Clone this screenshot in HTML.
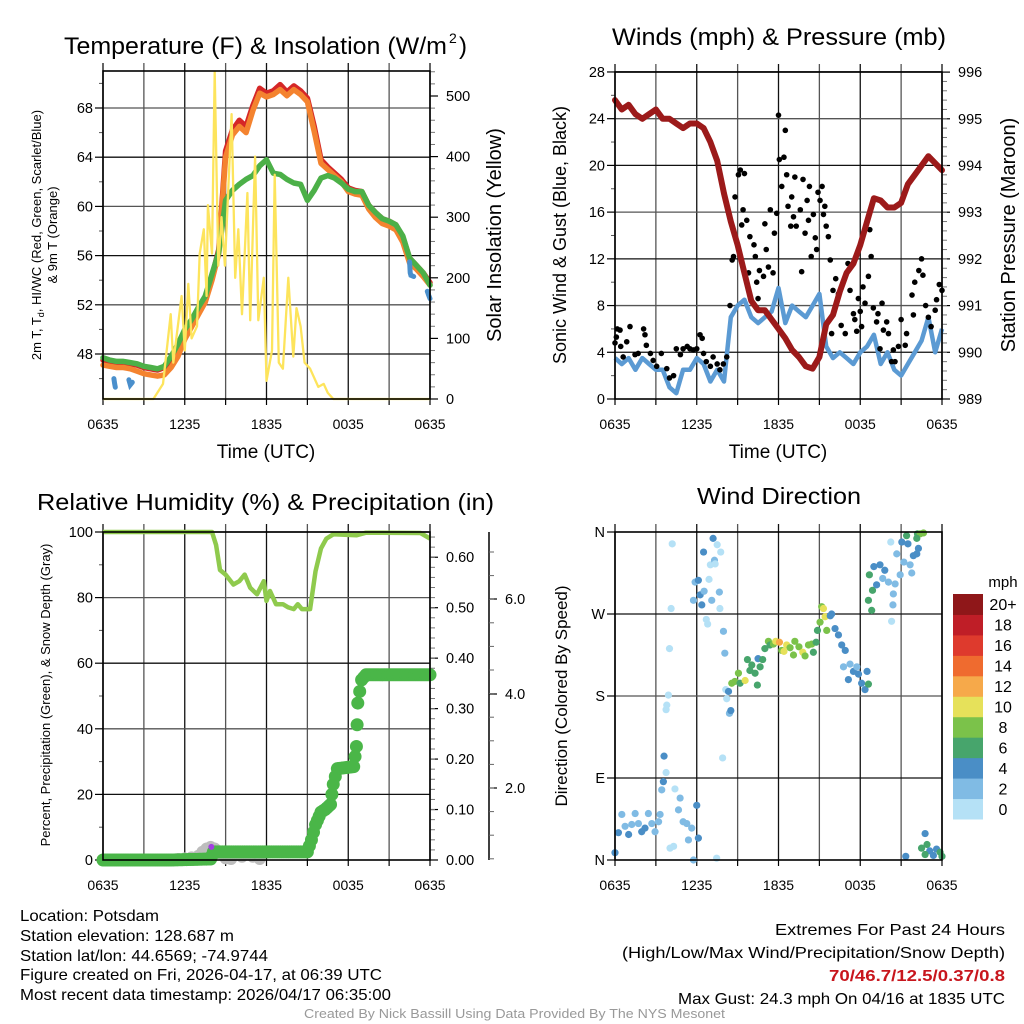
<!DOCTYPE html>
<html><head><meta charset="utf-8"><title>Mesonet Meteogram</title>
<style>
html,body{margin:0;padding:0;background:#fff;}
svg{display:block;font-family:"Liberation Sans",sans-serif;}
</style></head>
<body>
<svg id="chart" xmlns="http://www.w3.org/2000/svg" width="1024" height="1024" viewBox="0 0 1024 1024">
<rect width="1024" height="1024" fill="#fff"/>
<g id="layer"></g>
</svg>
<script>
// ---------- DATA ----------
const halfHours = [0,0.5,1,1.5,2,2.5,3,3.5,4,4.5,5,5.5,6,6.5,7,7.5,8,8.5,9,9.5,10,10.5,11,11.5,12,12.5,13,13.5,14,14.5,15,15.5,16,16.5,17,17.5,18,18.5,19,19.5,20,20.5,21,21.5,22,22.5,23,23.5,24];
const tempF = [47.5,47.4,47.3,47.3,47.2,47.1,46.9,46.8,46.7,46.9,47.6,48.6,49.8,50.6,51.6,52.5,54.3,56.5,64.5,66.2,67,66.5,68.2,69.6,69.2,69.4,69.9,69.3,69.8,69.4,68.8,66.5,63.8,63.2,62.7,62.2,61.5,61.3,61.2,60.1,59.5,59.0,58.8,58.5,57.5,55.8,55.2,54.6,53.8];
const temp9mF = [47.1,47.0,46.9,46.9,46.8,46.6,46.4,46.3,46.2,46.3,46.9,47.8,49.2,50.2,51.2,52.2,54.0,56.2,64.0,65.8,66.5,66.0,67.8,69.2,68.9,69.1,69.5,69.0,69.5,69.1,68.5,66.1,63.5,63.0,62.5,62.0,61.2,61.0,60.9,59.8,59.1,58.6,58.4,58.1,57.1,55.4,54.9,54.3,53.6];
const dewF = [47.7,47.5,47.4,47.4,47.3,47.2,47.0,46.9,46.8,47.0,47.8,48.8,50.0,50.8,51.8,52.7,54.5,56.3,60.5,61.3,61.8,62.2,62.5,63.3,63.8,62.7,62.6,62.2,61.9,61.8,60.5,61.3,62.3,62.5,62.3,61.9,61.4,61.2,61.2,60.1,59.5,59.0,58.8,58.5,57.6,55.8,55.2,54.6,53.6];
const chillHours = [0.8,0.85,0.9,null,1.9,2.0,2.15,null,22.5,22.55,22.6,22.8,null,23.8,23.9,24];
const chillF = [46.0,45.6,45.3,null,45.9,45.5,45.7,null,55.5,54.6,54.4,54.3,null,53.1,52.8,52.5];
const solarHours = [0,3.7,4.4,4.97,5.16,5.77,6.0,6.26,6.5,6.9,7.1,7.4,7.6,7.7,8.0,8.2,8.46,8.7,8.95,9.44,9.7,9.93,10.2,10.6,10.8,11.16,11.4,11.8,12.0,12.4,12.6,12.9,13.2,13.6,13.97,14.2,14.5,14.8,15.2,15.8,16.2,16.5,16.9,24];
const solarW = [0,0,25,140,60,170,80,190,100,120,240,280,170,320,240,540,220,300,220,470,200,280,140,340,130,400,130,200,30,80,370,60,50,200,70,150,120,60,50,20,25,10,0,0];

const windMph = [3.5,3,3.5,2.5,3.5,3,2.5,2.5,1,0.5,2.5,2.5,3.5,3,1.5,2.5,1.5,7,8,8.5,7,6.5,7,7.5,9.5,6.5,8,7.5,7,8,9,4.5,3.5,4,3.5,3,4,4.5,5.5,3,4,2.5,2,3,4,5,7,4,6];
const pressMb = [995.4,995.2,995.3,995.1,995.0,995.1,995.2,995.0,995.0,994.9,994.8,994.9,994.9,994.8,994.5,994.1,993.4,992.8,992.3,991.7,991.1,990.9,990.9,990.7,990.5,990.3,990.05,989.9,989.7,989.65,989.9,990.6,990.8,991.3,991.7,991.9,992.3,992.8,993.3,993.25,993.1,993.1,993.2,993.6,993.8,994.0,994.2,994.05,993.9];
const gustHours = [0,0.1,0.17,0.37,0.42,0.6,0.86,1.1,1.47,1.7,2.1,2.2,2.3,2.6,2.8,3.06,3.4,3.8,4.0,4.3,4.5,4.8,5.0,5.3,5.5,5.75,6.0,6.24,6.4,6.5,6.7,7.0,7.2,7.5,7.7,7.95,8.2,8.44,8.6,8.7,8.81,9.06,9.2,9.3,9.4,9.5,9.67,9.8,9.9,10.2,10.3,10.4,10.5,10.6,10.9,11.0,11.1,11.26,11.4,11.6,11.7,11.87,12.0,12.06,12.24,12.4,12.5,12.6,12.7,12.9,12.97,13.1,13.2,13.3,13.6,13.7,13.8,13.95,14.1,14.2,14.27,14.4,14.56,14.7,14.8,14.9,15.05,15.2,15.3,15.4,15.5,15.66,15.8,15.9,16.0,16.2,16.4,16.6,16.9,17.1,17.25,17.5,17.6,17.74,17.86,18.0,18.1,18.2,18.35,18.6,18.7,18.8,18.96,19.2,19.3,19.45,19.6,19.7,19.94,20.07,20.3,20.43,20.55,20.8,21.0,21.3,21.4,21.8,21.9,22.0,22.3,22.5,22.6,22.8,23.0,23.2,23.5,23.6,23.8,24.0];
const gustMph = [4.8,5.3,6.0,5.9,4.5,3.6,4.9,6.2,3.8,3.9,6.0,5.5,4.6,3.9,3.3,2.8,3.9,2.6,1.8,2.0,4.3,3.8,4.3,4.5,4.3,4.2,4.3,5.5,5.2,3.9,3.2,2.8,3.6,3.0,2.5,3.0,3.6,8.0,11.9,12.2,17.3,19.2,19.6,14.9,16.2,19.3,15.3,10.8,13.9,13.2,12.2,10.0,8.6,11.0,10.5,15.0,12.8,11.3,16.2,10.8,14.2,15.9,24.3,20.5,18.2,20.7,23.0,19.2,16.5,14.8,17.3,15.6,19.0,14.8,16.2,10.9,18.8,14.2,17.0,15.3,18.2,12.2,15.8,13.8,12.8,17.7,17.0,18.2,15.8,16.5,14.8,13.9,11.9,5.6,9.3,10.3,9.0,6.3,5.6,11.6,9.3,7.3,6.8,5.8,8.6,7.5,6.2,9.6,8.2,10.5,14.5,12.2,7.8,6.6,7.3,4.3,8.2,5.9,6.6,5.6,3.2,4.2,3.2,4.5,6.8,4.6,5.6,8.9,7.2,10.0,11.0,12.0,10.6,8.0,7.0,6.2,7.6,8.5,9.8,9.3];

const rhHours = [0,8,8.3,8.59,9.0,9.57,10.0,10.4,10.8,11.3,11.8,12.0,12.26,12.7,13.2,13.6,14.0,14.3,14.6,15.2,15.6,16.0,16.4,16.9,18.6,19.3,23.3,24];
const rhPct = [100,100,96,88.4,87,84,85,87,83,81,85,79,82,78,78,77,76.5,78,76.5,76.5,88,95,98,99.3,99,99.8,99.7,98];
const precipHours = [0,5,7.9,8.1,15.0,15.3,15.6,16.0,16.3,16.7,16.9,17.2,18.4,18.6,18.7,18.98,19.3,19.6,24];
const precipIn = [0,0,0.002,0.016,0.016,0.04,0.07,0.095,0.1,0.11,0.15,0.181,0.185,0.225,0.311,0.357,0.367,0.367,0.367];
const snowHours = [5.5,6.0,6.5,7.0,7.3,7.6,7.9,8.2,8.6,9.0,9.4,10.2,10.6,11.0,11.5];
const snowPct = [0.3,0.5,0.8,1.3,2.5,3.5,4.0,3.5,2.0,0.5,0.3,1.0,2.0,1.0,0.3];

const dirHours = [0,0.25,0.5,0.74,1.0,1.23,1.48,1.72,1.96,2.2,2.45,2.7,2.94,3.2,3.31,3.43,3.55,3.6,3.75,4.04,4.3,4.4,4.66,4.78,5.0,5.27,5.39,5.63,6.0,6.12,5.76,7.46,3.75,3.8,3.92,4.0,4.12,4.2,5.76,5.88,6.12,6.25,6.37,6.5,6.54,6.7,6.8,6.9,7.0,7.1,7.2,7.3,7.35,7.5,7.66,7.76,7.7,7.9,7.96,8.06,8.13,8.2,8.33,8.4,8.5,8.57,8.8,9.06,9.18,9.55,9.72,9.9,10.04,10.28,10.45,10.5,10.65,10.84,11.0,11.26,11.38,11.63,11.8,12.07,12.24,12.4,12.6,12.85,13.1,13.2,13.5,13.78,13.95,14.2,14.44,14.56,14.76,15.17,15.3,15.42,15.05,14.86,15.54,15.8,15.9,16.15,16.4,16.64,16.9,16.77,17.25,17.5,17.75,17.13,17.87,18.1,18.35,18.5,18.6,18.67,18.84,18.9,18.6,19.0,19.2,19.45,19.65,19.8,20.07,20.3,20.43,20.4,20.24,20.56,20.68,20.93,21.05,21.2,21.4,21.5,21.66,21.78,21.9,22.15,22.27,22.2,22.4,22.64,22.15,21.34,22.76,22.5,22.9,23.1,23.37,23.6,23.86,24,22.76];
const dirDeg = [8,30,50,37,28,39,51,40,31,35,51,40,31,42,50,77,86,114,96,13,15,78,55,68,42,40,22,35,60,24,0,2,165,170,181,232,276,347,285,305,307,291,280,338,295,264,259,308,324,285,353,329,325,346,294,338,276,112,251,227,187,177,185,161,164,194,196,205,194,197,220,208,214,205,192,221,212,220,232,240,236,237,240,239,230,229,236,233,225,240,234,228,224,236,237,228,239,278,276,267,261,252,252,268,270,254,247,236,230,212,215,207,212,198,204,194,187,207,193,313,274,296,285,322,302,324,309,318,305,262,292,280,349,303,336,313,349,327,356,347,324,315,334,336,342,358,358,359,353,4,29,13,17,10,5,12,8.5,4,6];
const dirSpeed = [5,5,3,3,5,3,3,3,5,5,3,3,3,3,3,3,5,5,1,1,1,1,3,3,3,3,3,3,5,5,3,1,1,1,1,1,1,1,3,3,5,5,5,5,3,1,1,1,1,3,5,3,1,1,3,1,1,1,3,3,1,1,5,3,5,9,9,9,7,11,7,7,7,7,7,5,7,7,7,9,7,9,11,13,9,11,11,9,9,9,9,11,9,9,9,7,7,9,11,11,9,7,9,5,5,5,5,5,5,3,3,5,3,5,5,5,5,5,7,7,7,7,7,5,5,5,3,5,3,1,3,3,1,3,3,3,5,3,7,5,3,3,5,5,5,7,9,9,7,5,5,7,7,5,5,5,7,7,7];
const speedBins = [0,2,4,6,8,10,12,14,16,18,20];
const speedColors = ["#b5e1f6","#80bbe4","#4a8ec6","#47a56c","#7bc24a","#e6e15a","#f6a94a","#ef6b2f","#de3a2d","#bf1e27","#8f1719"];
const binLabels = ["0","2","4","6","8","10","12","14","16","18","20+"];
const timeLabels = ["0635","1235","1835","0035","0635"];

// ---------- HELPERS ----------
const NS = "http://www.w3.org/2000/svg";
const layer = document.getElementById("layer");
function mk(tag, attrs, parent){
  const e = document.createElementNS(NS, tag);
  for (const k in attrs) e.setAttribute(k, attrs[k]);
  (parent || layer).appendChild(e);
  return e;
}
function txt(x, y, s, size, anchor, extra){
  const t = mk("text", Object.assign({x:x, y:y, "font-size":size, "text-anchor":anchor||"middle", fill:"#000"}, extra||{}));
  t.textContent = s;
  return t;
}
function pathFrom(xs, ys, fx, fy){
  let d = "", pen = false;
  for (let i=0;i<xs.length;i++){
    if (xs[i]===null || ys[i]===null){ pen=false; continue; }
    d += (pen?"L":"M") + fx(xs[i]).toFixed(1) + "," + fy(ys[i]).toFixed(1);
    pen = true;
  }
  return d;
}
function colorFor(s){
  let idx = 0;
  for (let i=0;i<speedBins.length;i++) if (s>=speedBins[i]) idx=i;
  return speedColors[idx];
}

function panelFrame(x0, y0, x1, y1, hLines, prefix){
  const w = x1-x0;
  for (let k=0;k<=8;k++){
    const x = x0 + k*w/8;
    const l = mk("line",{x1:x,y1:y0-8,x2:x,y2:y1,stroke:(k%2===0?"#111":"#555"),"stroke-width":1.3});
    
    
    const tk = mk("line",{x1:x,y1:y1,x2:x,y2:y1+6,stroke:"#000","stroke-width":1.2});
    
    
  }
  hLines.forEach((y,i)=>{
    const l = mk("line",{x1:x0,y1:y,x2:x1,y2:y,stroke:(i%2===0?"#111":"#555"),"stroke-width":1.3});
    
    
  });
  timeLabels.forEach((s,i)=>{
    const t = txt(x0 + i*w/4, y1+30, s, 14);
    
    
  });
}
function border(x0,y0,x1,y1,prefix){
  const r = mk("rect",{x:x0,y:y0,width:x1-x0,height:y1-y0,fill:"none",stroke:"#000","stroke-width":1.6});
  
  
}
function leftTicks(x, ys, labels, prefix, minor){
  ys.forEach((y,i)=>{
    const tk = mk("line",{x1:x-8,y1:y,x2:x,y2:y,stroke:"#000","stroke-width":1.2});
    
    
    const t = txt(x-10, y+5, labels[i], 14.5, "end");
    
    
  });
  (minor||[]).forEach(y=>{
    const tk = mk("line",{x1:x-4,y1:y,x2:x,y2:y,stroke:"#555","stroke-width":1});
    
    
  });
}
function rightTicks(x, ys, labels, prefix, minor){
  ys.forEach((y,i)=>{
    const tk = mk("line",{x1:x,y1:y,x2:x+8,y2:y,stroke:"#000","stroke-width":1.2});
    
    
    const t = txt(x+16, y+5, labels[i], 14.5, "start");
    
    
  });
  (minor||[]).forEach(y=>{
    const tk = mk("line",{x1:x,y1:y,x2:x+5,y2:y,stroke:"#777","stroke-width":1});
    
    
  });
}

// ---------- PANEL 1: TEMPERATURE ----------
(function(){
  const X0=103,X1=430,Y0=71,Y1=399;
  const xT = h => X0 + h*(X1-X0)/24;
  const yT = v => 354 - (v-48)*12.3;
  const yS = v => Y1 - v*0.606;
  const tVals=[48,52,56,60,64,68];
  panelFrame(X0,Y0,X1,Y1,tVals.map(yT),"temp");
  const minor=[]; for(let v=46;v<=70;v+=4) minor.push(yT(v));
  leftTicks(X0, tVals.map(yT), tVals.map(String), "temp", minor);
  const sVals=[0,100,200,300,400,500];
  const sMinor=[]; for(let v=20;v<=540;v+=20) if(v%100) sMinor.push(yS(v));
  rightTicks(X1, sVals.map(yS), sVals.map(String), "solar", sMinor);
  const series=[[tempF,"#d52727","temperature-line"],[temp9mF,"#f4832f","temp-9m-line"],[dewF,"#4cb048","dewpoint-line"]];
  series.forEach(s=>{
    const p = mk("path",{d:pathFrom(halfHours,s[0],xT,yT),fill:"none",stroke:s[1],"stroke-width":5.5,"stroke-linejoin":"round","stroke-linecap":"round"});
    
    
  });
  const wc = mk("path",{d:pathFrom(chillHours,chillF,xT,yT),fill:"none",stroke:"#4a8fcc","stroke-width":5,"stroke-linecap":"round"});
  
  
  const sol = mk("path",{d:pathFrom(solarHours,solarW,xT,yS),fill:"none",stroke:"#fde45c","stroke-width":2.3,"stroke-linejoin":"round"});
  
  
  border(X0,Y0,X1,Y1,"temp");
  const t1 = txt(64,54,"Temperature (F) & Insolation (W/m",24,"start",{textLength:383,lengthAdjust:"spacingAndGlyphs"});
  
  
  const sup = txt(449,43,"2",14,"start");
  
  
  const cl = txt(459,54,")",24,"start");
  
  
  const xt = txt(266,458,"Time (UTC)",19,"middle");
  
  
  const yt1 = txt(0,0,"",13,"middle",{transform:"translate(41,235) rotate(-90)"});
  yt1.innerHTML = '2m T, T<tspan font-size="9" dy="3">d</tspan><tspan dy="-3">, HI/WC (Red, Green, Scarlet/Blue)</tspan>';
  
  
  const yt2 = txt(0,0,"& 9m T (Orange)",13,"middle",{transform:"translate(57,235) rotate(-90)"});
  
  
  const yr = txt(0,0,"Solar Insolation (Yellow)",20,"middle",{transform:"translate(501,235) rotate(-90)"});
  
  
})();

// ---------- PANEL 2: WINDS ----------
(function(){
  const X0=615,X1=942,Y0=72,Y1=399;
  const xW = h => X0 + h*(X1-X0)/24;
  const yW = v => Y1 - v*11.68;
  const yP = p => Y1 - (p-989)*46.7;
  const wVals=[0,4,8,12,16,20,24,28];
  panelFrame(X0,Y0,X1,Y1,wVals.slice(1).map(yW),"wind");
  const minor=[]; for(let v=2;v<28;v+=4) minor.push(yW(v));
  leftTicks(X0, wVals.map(yW), wVals.map(String), "wind", minor);
  const pVals=[989,990,991,992,993,994,995,996];
  const pMinor=[]; for(let v=989.2;v<996;v+=0.2) pMinor.push(yP(v));
  rightTicks(X1, pVals.map(yP), pVals.map(String), "pressure", pMinor);
  const wl = mk("path",{d:pathFrom(halfHours,windMph,xW,yW),fill:"none",stroke:"#5b9ad3","stroke-width":4.5,"stroke-linejoin":"round"});
  
  
  gustHours.forEach((h,i)=>{
    const c = mk("circle",{cx:xW(h),cy:yW(gustMph[i]),r:2.8,fill:"#000"});
    
    
  });
  const pl = mk("path",{d:pathFrom(halfHours,pressMb,xW,yP),fill:"none",stroke:"#9c1a1a","stroke-width":6,"stroke-linejoin":"round","stroke-linecap":"round"});
  
  
  border(X0,Y0,X1,Y1,"wind");
  const t = txt(612,45,"Winds (mph) & Pressure (mb)",24,"start",{textLength:334,lengthAdjust:"spacingAndGlyphs"});
  
  
  const xt = txt(778,458,"Time (UTC)",19,"middle");
  
  
  const yl = txt(0,0,"Sonic Wind & Gust (Blue, Black)",18,"middle",{transform:"translate(566,235) rotate(-90)"});
  
  
  const yr = txt(0,0,"Station Pressure (Maroon)",20,"middle",{transform:"translate(1015,235) rotate(-90)"});
  
  
})();

// ---------- PANEL 3: RH & PRECIP ----------
(function(){
  const X0=103,X1=430,Y0=532,Y1=860;
  const xR = h => X0 + h*(X1-X0)/24;
  const yR = v => Y1 - v*3.28;
  const yPr = v => Y1 - v*504.6;
  const rVals=[0,20,40,60,80,100];
  panelFrame(X0,Y0,X1,Y1,rVals.slice(1).map(yR),"rh");
  const minor=[]; for(let v=10;v<100;v+=20) minor.push(yR(v));
  leftTicks(X0, rVals.map(yR), rVals.map(String), "rh", minor);
  const pv=[0,0.1,0.2,0.3,0.4,0.5,0.6];
  const pMinor=[]; for(let v=0.02;v<0.65;v+=0.02) pMinor.push(yPr(v));
  rightTicks(X1, pv.map(yPr), pv.map(v=>v.toFixed(2)), "precip", pMinor);
  const ax = mk("line",{x1:489,y1:532,x2:489,y2:860,stroke:"#000","stroke-width":1.5});
  
  
  const snowLabels=["2.0","4.0","6.0"];
  [788,694,599].forEach((y,i)=>{
    const tk = mk("line",{x1:489,y1:y,x2:497,y2:y,stroke:"#000","stroke-width":1.2});
    
    
    const t = txt(505,y+5,snowLabels[i],14.5,"start");
    
    
  });
  for(let y=552;y<860;y+=23.6){
    const tk = mk("line",{x1:489,y1:y,x2:494,y2:y,stroke:"#666","stroke-width":1});
    
    
  }
  snowHours.forEach((h,i)=>{
    const c = mk("circle",{cx:xR(h),cy:yR(snowPct[i]),r:6,fill:"#bdbdbd"});
    
    
  });
  for(let i=0;i<precipHours.length-1;i++){
    const h0=precipHours[i],h1=precipHours[i+1];
    const n=Math.max(2,Math.ceil((h1-h0)*6));
    for(let k=0;k<n;k++){
      const f=k/n;
      const c = mk("circle",{cx:xR(h0+(h1-h0)*f),cy:yPr(precipIn[i]+(precipIn[i+1]-precipIn[i])*f),r:6.5,fill:"#4ab648"});
      
      
    }
  }
  const pEnd = mk("circle",{cx:xR(24),cy:yPr(precipIn[precipIn.length-1]),r:6.5,fill:"#4ab648"});
  
  
  const pu = mk("circle",{cx:xR(7.95),cy:yR(4),r:3,fill:"#a23ee0"});
  
  
  const rl = mk("path",{d:pathFrom(rhHours,rhPct,xR,yR),fill:"none",stroke:"#8fca4d","stroke-width":4.5,"stroke-linejoin":"round"});
  
  
  border(X0,Y0,X1,Y1,"rh");
  const t = txt(37,510,"Relative Humidity (%) & Precipitation (in)",23,"start",{textLength:457,lengthAdjust:"spacingAndGlyphs"});
  
  
  const yl = txt(0,0,"Percent, Precipitation (Green), & Snow Depth (Gray)",13,"middle",{transform:"translate(50,695) rotate(-90)"});
  
  
})();

// ---------- PANEL 4: WIND DIRECTION ----------
(function(){
  const X0=615,X1=942,Y0=532,Y1=860;
  const xD = h => X0 + h*(X1-X0)/24;
  const yD = d => Y1 - d*0.9111;
  const dVals=[0,90,180,270,360], dLab=["N","E","S","W","N"];
  panelFrame(X0,Y0,X1,Y1,dVals.slice(1,4).map(yD),"dir");
  leftTicks(X0, dVals.map(yD), dLab, "dir", []);
  dirHours.forEach((h,i)=>{
    const c = mk("circle",{cx:xD(h),cy:yD(dirDeg[i]),r:3.6,fill:colorFor(dirSpeed[i])});
    
    
  });
  border(X0,Y0,X1,Y1,"dir");
  const bh = (819-594)/speedColors.length;
  speedColors.forEach((col,i)=>{
    const y = 819 - (i+1)*bh;
    const r = mk("rect",{x:953,y:y,width:30,height:bh+0.5,fill:col});
    
    
    const t = txt(1003,y+bh/2+6,binLabels[i],16,"middle");
    
    
  });
  const mph = txt(1003,587,"mph",15,"middle");
  
  
  const t = txt(697,504,"Wind Direction",23,"start",{textLength:164,lengthAdjust:"spacingAndGlyphs"});
  
  
  const yl = txt(0,0,"Direction (Colored By Speed)",17,"middle",{transform:"translate(567,696) rotate(-90)"});
  
  
})();

// ---------- FOOTER ----------
(function(){
  const left=[["Location: Potsdam",921,139],["Station elevation: 128.687 m",941,214],["Station lat/lon: 44.6569; -74.9744",961,248],["Figure created on Fri, 2026-04-17, at 06:39 UTC",980,362],["Most recent data timestamp: 2026/04/17 06:35:00",1000,371]];
  left.forEach(l=>{
    const t = txt(20,l[1],l[0],16,"start",{textLength:l[2],lengthAdjust:"spacingAndGlyphs"});
    
    
  });
  const right=[["Extremes For Past 24 Hours",935,230,"#000","normal"],["(High/Low/Max Wind/Precipitation/Snow Depth)",958,383,"#000","normal"],["70/46.7/12.5/0.37/0.8",981,176,"#c8161d","bold"],["Max Gust: 24.3 mph On 04/16 at 1835 UTC",1004,327,"#000","normal"]];
  right.forEach(l=>{
    const t = txt(1005-l[2],l[1],l[0],16,"start",{textLength:l[2],lengthAdjust:"spacingAndGlyphs",fill:l[3],"font-weight":l[4]});
    
    
  });
  const cr = txt(304,1018,"Created By Nick Bassill Using Data Provided By The NYS Mesonet",12.5,"start",{textLength:421,lengthAdjust:"spacingAndGlyphs",fill:"#999"});
  
  
})();
</script>
</body></html>
